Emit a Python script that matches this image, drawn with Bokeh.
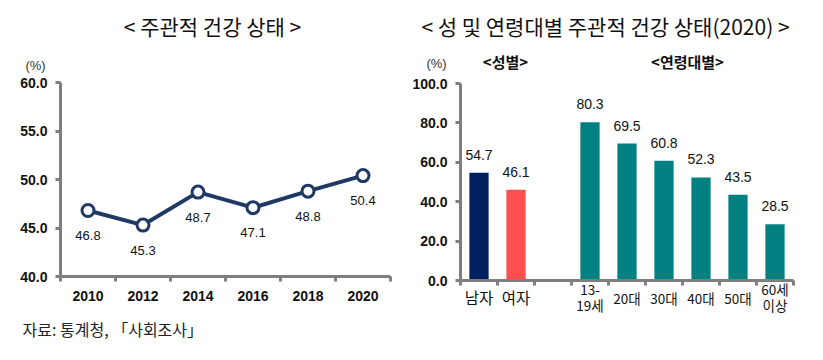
import numpy as np
from bokeh.plotting import figure
from bokeh.models import (Range1d, FixedTicker, PrintfTickFormatter, LinearAxis,
                          ColumnDataSource, LabelSet, Label)
from bokeh.layouts import row
from bokeh.core.properties import value
from bokeh.embed import file_html
from bokeh.resources import INLINE

# ---------------- data ----------------
years = ["2010", "2012", "2014", "2016", "2018", "2020"]
health = [46.8, 45.3, 48.7, 47.1, 48.8, 50.4]

sex_labels = ["남자", "여자"]
sex_values = [54.7, 46.1]
age_labels = ["13-\n19세", "20대", "30대", "40대", "50대", "60세\n이상"]
age_values = [80.3, 69.5, 60.8, 52.3, 43.5, 28.5]

left_ticks = [40, 45, 50, 55, 60]
right_ticks = [0, 20, 40, 60, 80, 100]

KO = "Noto Sans CJK KR"
NUM = "Liberation Sans"
NAVY_LINE = "#1F3864"
AXIS = "#7F7F7F"
TXT = "#111111"
H = 340


def lin(p0, p1, v0, v1):
    """map a page pixel to a data value"""
    return lambda px: v0 + (px - p0) * (v1 - v0) / (p1 - p0)


def make_fig(width, xr, yr):
    p = figure(width=width, height=H, output_backend="svg", toolbar_location=None,
               x_range=xr, y_range=yr, x_axis_location=None, y_axis_location=None,
               min_border=0, min_border_left=0, min_border_right=0,
               min_border_top=0, min_border_bottom=0)
    p.outline_line_color = None
    p.xgrid.grid_line_color = None
    p.ygrid.grid_line_color = None
    p.background_fill_color = "white"
    p.border_fill_color = "white"
    return p


def axis_style(ax):
    ax.axis_line_color = AXIS
    ax.axis_line_width = 3
    ax.major_tick_line_color = AXIS
    ax.major_tick_line_width = 3
    ax.minor_tick_line_color = AXIS
    ax.minor_tick_line_width = 3
    ax.major_label_text_color = TXT


def y_axis(p, ticks, loc):
    ax = LinearAxis(ticker=FixedTicker(ticks=ticks),
                    formatter=PrintfTickFormatter(format="%.1f"),
                    fixed_location=loc, bounds=(ticks[0], ticks[-1]))
    axis_style(ax)
    ax.major_tick_out = 5
    ax.major_tick_in = 0
    ax.minor_tick_out = 0
    ax.minor_tick_in = 0
    ax.major_label_text_font = NUM
    ax.major_label_text_font_style = "bold"
    ax.major_label_text_font_size = "14px"
    ax.major_label_standoff = 8
    p.add_layout(ax, "left")
    return ax


def x_axis(p, pos, labels, loc, bounds, minor, line=True):
    ax = LinearAxis(ticker=FixedTicker(ticks=list(pos), minor_ticks=minor),
                    fixed_location=loc, bounds=bounds)
    axis_style(ax)
    ax.major_label_overrides = {float(x): t for x, t in zip(pos, labels)}
    ax.major_tick_out = 0
    ax.major_tick_in = 0
    ax.minor_tick_in = 0
    ax.minor_tick_out = 5 if line else 0
    if not line:
        ax.axis_line_color = None
        ax.minor_tick_line_color = None
        ax.major_tick_line_color = None
    p.add_layout(ax, "below")
    return ax


# ---------------- left: line chart ----------------
nx = len(years)
xs = np.arange(nx) + 0.5
X1 = lin(60, 390, 0, nx)
Y1 = lin(276, 82, left_ticks[0], left_ticks[-1])
W1 = 408
p1 = make_fig(W1, Range1d(X1(0), X1(W1)), Range1d(Y1(H), Y1(0)))
y_axis(p1, left_ticks, 0)
ax1 = x_axis(p1, xs, years, left_ticks[0], (0, nx), list(range(nx + 1)))
ax1.major_label_text_font = NUM
ax1.major_label_text_font_style = "bold"
ax1.major_label_text_font_size = "14px"
ax1.major_label_standoff = 9

src1 = ColumnDataSource(dict(x=xs, y=health, t=[f"{v:.1f}" for v in health]))
p1.line("x", "y", source=src1, line_color=NAVY_LINE, line_width=4)
p1.scatter("x", "y", source=src1, size=12, fill_color="white",
           line_color=NAVY_LINE, line_width=3)
p1.add_layout(LabelSet(x="x", y="y", text="t", source=src1, y_offset=-25,
                       text_align="center", text_baseline="middle",
                       text_font=value(NUM), text_font_size="13px",
                       text_color=TXT))

p1.add_layout(Label(x=X1(212), y=Y1(25), text="< 주관적 건강 상태 >",
                    text_align="center", text_baseline="middle", text_font=KO,
                    text_font_size="21px", text_color=TXT))
p1.add_layout(Label(x=X1(35), y=Y1(65), text="(%)", text_align="center",
                    text_baseline="middle", text_font=NUM,
                    text_font_size="13px", text_color="#333333"))
p1.add_layout(Label(x=X1(22), y=Y1(328), text="자료: 통계청, 「사회조사」",
                    text_align="left", text_baseline="middle", text_font=KO,
                    text_font_size="16px", text_color="#222222"))

# ---------------- right: bar chart ----------------
OFF = W1  # page x where the right figure starts
n_slots = len(sex_labels) + 1 + len(age_labels)
sex_x = np.arange(len(sex_labels)) + 0.5
age_x = np.arange(len(age_labels)) + len(sex_labels) + 1 + 0.5
X2 = lin(460 - OFF, 793 - OFF, 0, n_slots)
Y2 = lin(280, 83, right_ticks[0], right_ticks[-1])
W2 = 399
p2 = make_fig(W2, Range1d(X2(0), X2(W2)), Range1d(Y2(H), Y2(0)))
y_axis(p2, right_ticks, 0)

two_line = [i for i, t in enumerate(age_labels) if "\n" in t]
one_line = [i for i, t in enumerate(age_labels) if "\n" not in t]

# main axis: line, boundary ticks, two-line age labels
axA = x_axis(p2, [age_x[i] for i in two_line], [age_labels[i] for i in two_line],
             0, (0, n_slots), list(range(n_slots + 1)))
axA.major_label_text_font = KO
axA.major_label_text_font_size = "13.5px"
axA.major_label_text_line_height = 0.8
axA.major_label_standoff = -7
# single-line age labels (vertically centred like the reference)
axB = x_axis(p2, [age_x[i] for i in one_line], [age_labels[i] for i in one_line],
             0, (0, n_slots), [], line=False)
axB.major_label_text_font = KO
axB.major_label_text_font_size = "13.5px"
axB.major_label_standoff = 7
# gender labels (larger)
axC = x_axis(p2, sex_x, sex_labels, 0, (0, n_slots), [], line=False)
axC.major_label_text_font = KO
axC.major_label_text_font_size = "15.5px"
axC.major_label_standoff = 5

src_sex = ColumnDataSource(dict(x=sex_x, top=sex_values,
                                c=["#002060", "#FF5050"],
                                t=[f"{v:.1f}" for v in sex_values]))
src_age = ColumnDataSource(dict(x=age_x, top=age_values,
                                t=[f"{v:.1f}" for v in age_values]))
p2.vbar(x="x", top="top", bottom=0, width=0.52, source=src_sex,
        fill_color="c", line_color=None)
p2.vbar(x="x", top="top", bottom=0, width=0.52, source=src_age,
        fill_color="#008080", line_color=None)
for s in (src_sex, src_age):
    p2.add_layout(LabelSet(x="x", y="top", text="t", source=s, y_offset=18,
                           text_align="center", text_baseline="middle",
                           text_font=value(NUM), text_font_size="14px",
                           text_color=TXT))

p2.add_layout(Label(x=X2(605 - OFF), y=Y2(25),
                    text="< 성 및 연령대별 주관적 건강 상태(2020) >",
                    text_align="center", text_baseline="middle", text_font=KO,
                    text_font_size="21px", text_color=TXT))
p2.add_layout(Label(x=X2(436 - OFF), y=Y2(63), text="(%)", text_align="center",
                    text_baseline="middle", text_font=NUM,
                    text_font_size="13px", text_color="#333333"))
p2.add_layout(Label(x=X2(505 - OFF), y=Y2(61), text="<성별>",
                    text_align="center", text_baseline="middle", text_font=KO,
                    text_font_style="bold", text_font_size="15px",
                    text_color=TXT))
p2.add_layout(Label(x=X2(687 - OFF), y=Y2(61), text="<연령대별>",
                    text_align="center", text_baseline="middle", text_font=KO,
                    text_font_style="bold", text_font_size="15px",
                    text_color=TXT))

layout = row(p1, p2)
open("out.html", "w").write(file_html(layout, INLINE))
